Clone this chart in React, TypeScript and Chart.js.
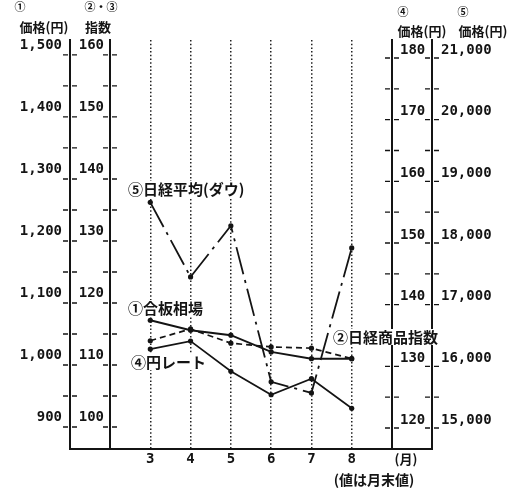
import React, { useEffect, useRef } from "react";
import { Chart, registerables } from "chart.js";

Chart.register(...registerables);

// ---- data (month-end values) ----
const months = [3, 4, 5, 6, 7, 8];
const plywood = [1056, 1040, 1032, 1005, 994, 994]; // ① 合板相場 (円)
const commodityIndex = [112.3, 114.2, 111.9, 111.3, 111.1, 109.4]; // ② 日経商品指数
const yenRate = [131.5, 132.8, 127.9, 124.1, 126.7, 121.9]; // ④ 円レート (円)
const nikkei = [18530, 17320, 18150, 15620, 15440, 17790]; // ⑤ 日経平均(ダウ) (円)

const yenTicks = [900, 1000, 1100, 1200, 1300, 1400, 1500];
const indexTicks = [100, 110, 120, 130, 140, 150, 160];
const rateTicks = [120, 130, 140, 150, 160, 170, 180];
const nikkeiTicks = [15000, 16000, 17000, 18000, 19000, 20000, 21000];

const INK = "#141414";
const MONO = "'DejaVu Sans Mono', monospace";
const JP = "'Noto Sans CJK JP', sans-serif";

const fmt = (v: any) => Number(v).toLocaleString("en-US");

function halfSteps(ticks: number[]) {
  const out: number[] = [];
  for (let i = 0; i < ticks.length; i++) {
    out.push(ticks[i]);
    if (i < ticks.length - 1) out.push((ticks[i] + ticks[i + 1]) / 2);
  }
  return out;
}

const decor = {
  id: "decor",
  beforeDatasetsDraw(chart: any) {
    const { ctx, chartArea, scales } = chart;
    ctx.save();
    // bottom base line spanning all axes
    ctx.strokeStyle = INK;
    ctx.lineWidth = 2;
    ctx.beginPath();
    ctx.moveTo(scales.y1.right - 1, chartArea.bottom);
    ctx.lineTo(scales.y5.left + 1, chartArea.bottom);
    ctx.stroke();

    // small cross tick marks on each axis line
    const marks: [any, number[], boolean, number][] = [
      [scales.y1, halfSteps(yenTicks), true, 10],
      [scales.y2, halfSteps(indexTicks), true, 10],
      [scales.y4, halfSteps(rateTicks), false, 8],
      [scales.y5, halfSteps(nikkeiTicks), false, 8],
    ];
    ctx.lineWidth = 1.3;
    for (const [s, vals, isLeft, off] of marks) {
      const x = isLeft ? s.right : s.left;
      for (const v of vals) {
        const y = s.getPixelForValue(v) + off;
        if (y > chartArea.bottom - 3 || y < chartArea.top) continue;
        ctx.beginPath();
        ctx.moveTo(x - 7, y);
        ctx.lineTo(x - 2, y);
        ctx.moveTo(x + 2, y);
        ctx.lineTo(x + 7, y);
        ctx.stroke();
      }
    }

    // headers
    ctx.fillStyle = INK;
    ctx.textAlign = "center";
    ctx.textBaseline = "middle";
    ctx.font = `bold 11px ${JP}`;
    ctx.fillText("①", 20, 7);
    ctx.fillText("②・③", 101, 7);
    ctx.fillText("④", 403, 12);
    ctx.fillText("⑤", 463, 12);
    ctx.font = `bold 13px ${JP}`;
    ctx.fillText("価格(円)", 44, 27);
    ctx.fillText("指数", 98, 27);
    ctx.fillText("価格(円)", 422, 31);
    ctx.fillText("価格(円)", 483, 31);

    // x-axis unit + note
    ctx.font = `bold 13px ${JP}`;
    ctx.fillText("(月)", 406, 459);
    ctx.font = `bold 14px ${JP}`;
    ctx.fillText("(値は月末値)", 374, 480);

    // series annotations with white background
    const notes: [string, number, number][] = [
      ["⑤日経平均(ダウ)", 128, 189],
      ["①合板相場", 128, 308],
      ["②日経商品指数", 333, 337],
      ["④円レート", 131, 362],
    ];
    ctx.font = `bold 15px ${JP}`;
    ctx.textAlign = "left";
    for (const [t, x, y] of notes) {
      const w = ctx.measureText(t).width;
      ctx.fillStyle = "#ffffff";
      ctx.fillRect(x - 1, y - 8, w + 2, 16);
      ctx.fillStyle = INK;
      ctx.fillText(t, x, y);
    }
    ctx.restore();
  },
};

const tickFont = { family: MONO, size: 14, weight: "bold" as const };

function yAxis(
  position: "left" | "right",
  weight: number,
  min: number,
  max: number,
  ticks: number[],
  width: number,
  padding: number
) {
  return {
    type: "linear" as const,
    position,
    weight,
    min,
    max,
    afterBuildTicks: (s: any) => {
      s.ticks = ticks.map((v) => ({ value: v }));
    },
    afterFit: (s: any) => {
      s.width = width;
    },
    grid: { display: false, drawTicks: false },
    border: { display: true, color: INK, width: 2 },
    ticks: {
      padding,
      color: INK,
      font: tickFont,
      autoSkip: false,
      callback: fmt,
    },
  };
}

export default function App() {
  const ref = useRef<HTMLCanvasElement | null>(null);

  useEffect(() => {
    document.body.style.margin = "0";
    const canvas = ref.current;
    if (!canvas) return;
    const pts = (arr: number[]) => months.map((m, i) => ({ x: m, y: arr[i] }));
    const common = {
      borderColor: INK,
      backgroundColor: INK,
      pointRadius: 2.6,
      pointBorderWidth: 0,
      pointBackgroundColor: INK,
      fill: false,
      tension: 0,
    };
    const chart = new Chart(canvas, {
      type: "line",
      data: {
        datasets: [
          { ...common, label: "① 合板相場", data: pts(plywood), yAxisID: "y1", borderWidth: 2 },
          {
            ...common,
            label: "② 日経商品指数",
            data: pts(commodityIndex),
            yAxisID: "y2",
            borderWidth: 1.7,
            borderDash: [6, 4],
          },
          { ...common, label: "④ 円レート", data: pts(yenRate), yAxisID: "y4", borderWidth: 1.7 },
          {
            ...common,
            label: "⑤ 日経平均(ダウ)",
            data: pts(nikkei),
            yAxisID: "y5",
            borderWidth: 1.8,
            borderDash: [28, 6, 3, 6],
          },
        ],
      },
      options: {
        responsive: false,
        animation: false,
        layout: { padding: { top: 40, left: 0, right: 0, bottom: 0 } },
        plugins: { legend: { display: false }, tooltip: { enabled: false } },
        scales: {
          x: {
            type: "linear",
            min: 2,
            max: 9,
            afterBuildTicks: (s: any) => {
              s.ticks = months.map((v) => ({ value: v }));
            },
            afterFit: (s: any) => {
              s.height = 40;
            },
            grid: { display: true, drawTicks: false, color: "#222", lineWidth: 1.5 },
            border: { display: false, dash: [1.5, 2.2] },
            ticks: { padding: 2, color: INK, font: { family: MONO, size: 14, weight: "bold" }, autoSkip: false },
          },
          y1: yAxis("left", 2, 848.4, 1508, yenTicks, 70, 8),
          y2: yAxis("left", 1, 94.84, 160.8, indexTicks, 40, 6),
          y4: yAxis("right", 1, 115.3, 181.62, rateTicks, 40, 8),
          y5: yAxis("right", 2, 14530, 21162, nikkeiTicks, 81, 9),
        },
      },
      plugins: [decor],
    } as any);
    return () => chart.destroy();
  }, []);

  return (
    <div style={{ position: "absolute", left: 0, top: 0, width: 513, height: 489, background: "#fff" }}>
      <canvas ref={ref} width={513} height={489} style={{ display: "block" }} />
    </div>
  );
}
